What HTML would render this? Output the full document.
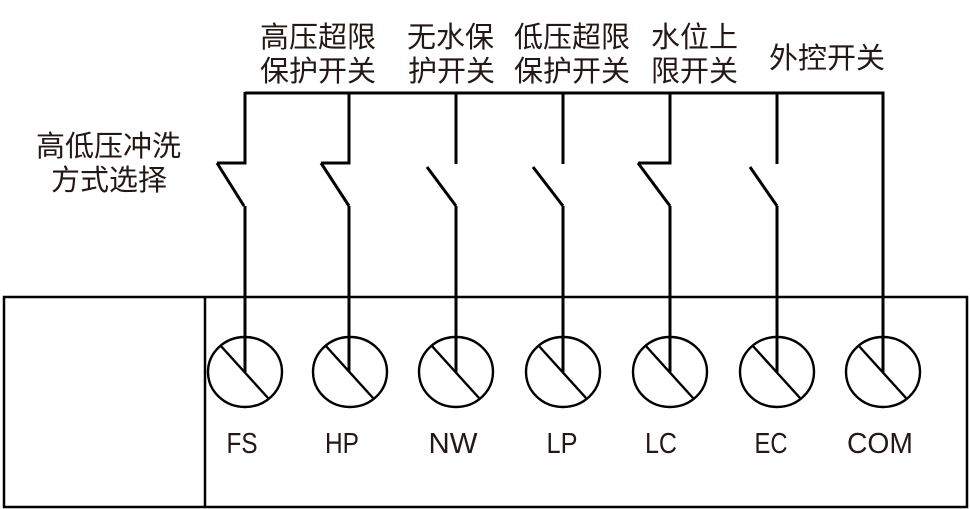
<!DOCTYPE html>
<html>
<head>
<meta charset="utf-8">
<style>
html,body{margin:0;padding:0;background:#fff;}
svg{display:block;}
.cjk{font-family:"Liberation Sans","Noto Sans CJK SC",sans-serif;font-size:29px;fill:#231815;}
.lat{font-family:"Liberation Sans",sans-serif;font-size:29px;fill:#231815;}
</style>
</head>
<body>
<svg width="970" height="509" viewBox="0 0 970 509" xmlns="http://www.w3.org/2000/svg">
  <!-- outer box -->
  <rect x="4" y="297" width="963" height="210" fill="none" stroke="#000" stroke-width="2.5"/>
  <line x1="205" y1="297" x2="205" y2="507" stroke="#000" stroke-width="2.5"/>

  <g stroke="#000" stroke-width="3" fill="none" stroke-linecap="butt">
    <!-- top bus -->
    <polyline points="245,93 883,93"/>
    <!-- FS -->
    <polyline points="245,92 245,163 217,163"/>
    <line x1="217" y1="163" x2="244" y2="206"/>
    <line x1="245" y1="206" x2="245" y2="372"/>
    <!-- HP -->
    <polyline points="349,93 349,163 321,163"/>
    <line x1="321" y1="163" x2="349" y2="206"/>
    <line x1="349" y1="206" x2="349" y2="372"/>
    <!-- NW -->
    <line x1="456" y1="93" x2="456" y2="164"/>
    <line x1="427" y1="167" x2="456" y2="206"/>
    <line x1="456" y1="206" x2="456" y2="372"/>
    <!-- LP -->
    <line x1="563" y1="93" x2="563" y2="164"/>
    <line x1="533" y1="167" x2="563" y2="206"/>
    <line x1="563" y1="206" x2="563" y2="372"/>
    <!-- LC -->
    <polyline points="670,93 670,163 638,163"/>
    <line x1="638" y1="163" x2="670" y2="206"/>
    <line x1="670" y1="206" x2="670" y2="372"/>
    <!-- EC -->
    <line x1="777" y1="93" x2="777" y2="164"/>
    <line x1="750" y1="167" x2="777" y2="206"/>
    <line x1="777" y1="206" x2="777" y2="372"/>
    <!-- COM -->
    <polyline points="881.5,93 883,93 883,372"/>
  </g>

  <!-- terminals -->
  <g stroke="#000" stroke-width="2.4" fill="none">
    <ellipse cx="245" cy="372" rx="37" ry="35"/>
    <line x1="220" y1="345" x2="268" y2="398"/>
    <ellipse cx="350" cy="372" rx="37" ry="35"/>
    <line x1="325" y1="345" x2="373" y2="398"/>
    <ellipse cx="456" cy="372" rx="37" ry="35"/>
    <line x1="431" y1="345" x2="479" y2="398"/>
    <ellipse cx="563" cy="372" rx="37" ry="35"/>
    <line x1="538" y1="345" x2="586" y2="398"/>
    <ellipse cx="670" cy="372" rx="37" ry="35"/>
    <line x1="645" y1="345" x2="693" y2="398"/>
    <ellipse cx="777" cy="372" rx="37" ry="35"/>
    <line x1="752" y1="345" x2="800" y2="398"/>
    <ellipse cx="883" cy="372" rx="37" ry="35"/>
    <line x1="858" y1="345" x2="906" y2="398"/>
  </g>

  <!-- terminal labels -->
  <text class="lat" x="242" y="453" text-anchor="middle" textLength="31" lengthAdjust="spacingAndGlyphs">FS</text>
  <text class="lat" x="342" y="453" text-anchor="middle" textLength="34" lengthAdjust="spacingAndGlyphs">HP</text>
  <text class="lat" x="453" y="453" text-anchor="middle" textLength="49" lengthAdjust="spacingAndGlyphs">NW</text>
  <text class="lat" x="562" y="453" text-anchor="middle" textLength="31" lengthAdjust="spacingAndGlyphs">LP</text>
  <text class="lat" x="661" y="453" text-anchor="middle" textLength="32" lengthAdjust="spacingAndGlyphs">LC</text>
  <text class="lat" x="771" y="453" text-anchor="middle" textLength="33" lengthAdjust="spacingAndGlyphs">EC</text>
  <text class="lat" x="880" y="453" text-anchor="middle" textLength="66" lengthAdjust="spacingAndGlyphs">COM</text>

  <!-- switch labels -->
  <text class="cjk" x="260" y="47">高压超限</text>
  <text class="cjk" x="260" y="81">保护开关</text>
  <text class="cjk" x="407" y="47">无水保</text>
  <text class="cjk" x="408" y="81">护开关</text>
  <text class="cjk" x="514" y="47">低压超限</text>
  <text class="cjk" x="514" y="81">保护开关</text>
  <text class="cjk" x="651" y="47">水位上</text>
  <text class="cjk" x="651" y="81">限开关</text>
  <text class="cjk" x="769" y="68">外控开关</text>
  <text class="cjk" x="36" y="156">高低压冲洗</text>
  <text class="cjk" x="51" y="190">方式选择</text>
</svg>
</body>
</html>
